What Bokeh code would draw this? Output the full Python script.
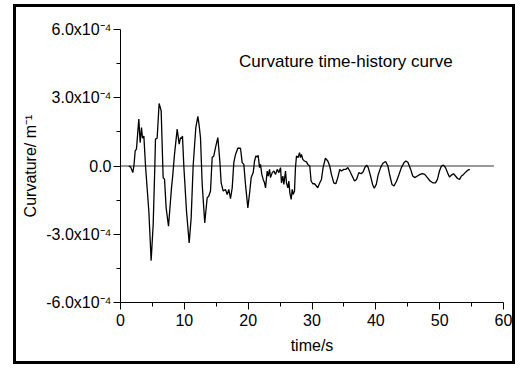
import numpy as np
from bokeh.plotting import figure
from bokeh.models import FixedTicker, Label, Range1d
from bokeh.embed import file_html
from bokeh.resources import INLINE

# ---- data (time in s, curvature in units of 1e-4 m^-1) ----
time_s = [1.3, 1.6, 1.93, 2.1, 2.3, 2.5, 2.87, 3.08, 3.29, 3.45, 3.66, 3.92, 4.44, 4.8, 5.12,
          5.38, 5.48, 5.74, 6.05, 6.37, 6.68, 6.9, 7.15, 7.52, 7.83, 7.99, 8.2, 8.46, 8.88,
          9.19, 9.4, 9.55, 9.71, 9.92, 10.34, 10.76, 11.07, 11.38, 11.8, 12.12, 12.33, 12.53,
          12.8, 13.2, 13.32, 13.58, 13.84, 14.1, 14.36, 14.62, 14.88, 15.25, 15.56, 15.77,
          16.09, 16.45, 16.71, 16.97, 17.23, 17.5, 17.75, 18.02, 18.38, 18.8, 19.06, 19.32,
          19.58, 19.95, 20.26, 20.47, 20.79, 21.0, 21.2, 21.42, 21.57, 21.78, 21.93, 22.14,
          22.35, 22.56, 22.72, 22.98, 23.14, 23.35, 23.5, 23.77, 24.03, 24.29, 24.55, 24.81,
          25.07, 25.22, 25.43, 25.59, 25.85, 26.0, 26.22, 26.37, 26.53, 26.74, 26.9, 27.05,
          27.26, 27.41, 27.57, 27.83, 28.04, 28.2, 28.35, 28.56, 28.82, 29.13, 29.34, 29.65,
          29.86, 30.12, 30.38, 30.7, 30.9, 31.22, 31.48, 31.74, 32.1, 32.47, 32.78, 33.04,
          33.41, 33.73, 34.04, 34.35, 34.61, 34.98, 35.3, 35.61, 35.92, 36.29, 36.66, 36.97,
          37.34, 37.7, 38.02, 38.28, 38.55, 38.81, 39.17, 39.49, 39.75, 40.07, 40.38, 40.75,
          41.11, 41.53, 41.89, 42.21, 42.53, 42.84, 43.26, 43.63, 44.0, 44.42, 44.73, 45.04,
          45.46, 45.78, 46.09, 46.51, 46.93, 47.3, 47.66, 48.08, 48.5, 48.92, 49.34, 49.65,
          49.97, 50.28, 50.6, 50.91, 51.22, 51.54, 51.85, 52.17, 52.48, 52.8, 53.11, 53.42,
          53.74, 54.0, 54.26, 54.58, 54.73]
curvature_e4 = [0.0, -0.05, -0.29, 0.0, 0.66, 0.74, 2.06, 1.03, 1.69, 1.22, 1.32, 0.0, -1.99,
                -4.16, -2.57, 0.0, 1.18, 1.22, 2.75, 2.43, -0.51, -0.59, -1.84, -2.65, -1.54,
                -0.96, -0.37, 0.51, 1.62, 0.96, 1.25, 1.2, 1.32, 0.0, -1.99, -3.38, -2.28, 0.0,
                1.69, 2.18, 1.76, 1.25, -0.81, -2.5, -2.13, -1.4, -1.32, -1.1, 0.37, 0.44, 0.81,
                1.25, 0.22, -0.74, -1.1, -1.03, -1.25, -1.03, -1.44, -0.96, 0.15, 0.51, 0.78,
                0.78, 0.15, 0.07, -0.81, -1.84, -1.1, -0.51, -0.29, 0.22, 0.44, 0.40, 0.47,
                -0.07, 0.07, -0.37, -0.59, -0.74, -0.96, -0.22, -0.44, -0.15, -0.51, -0.29,
                -0.22, -0.37, -0.15, -0.29, -0.07, -0.74, -0.44, -0.81, -0.22, -0.74, -0.96,
                -0.66, -1.18, -1.47, -1.03, -1.25, -1.1, -0.07, 0.44, 0.37, 0.59, 0.37, 0.51,
                0.29, 0.22, 0.18, 0.07, 0.0, -0.66, -0.78, -0.78, -0.88, -0.96, -0.74, -0.59,
                -0.07, 0.34, 0.22, 0.0, -0.37, -0.74, -0.78, -0.51, -0.15, -0.22, -0.15, -0.15,
                -0.07, -0.22, -0.44, -0.66, -0.59, -0.29, -0.34, -0.25, -0.07, 0.04, -0.07,
                -0.44, -0.81, -0.98, -0.81, -0.37, -0.07, 0.12, 0.2, 0.0, -0.44, -0.81, -0.88,
                -0.66, -0.37, -0.07, 0.15, 0.22, 0.15, -0.15, -0.44, -0.51, -0.44, -0.37,
                -0.34, -0.37, -0.51, -0.66, -0.74, -0.74, -0.59, -0.22, 0.0, 0.04, -0.07,
                -0.29, -0.48, -0.40, -0.34, -0.44, -0.55, -0.59, -0.44, -0.37, -0.29, -0.22,
                -0.15, -0.18]
zero_line_t = [0.0, 58.5]
zero_line_v = [0.0, 0.0]

x_ticks = [0, 10, 20, 30, 40, 50, 60]
x_minor = [5, 15, 25, 35, 45, 55]
y_ticks = [-6e-4, -3e-4, 0.0, 3e-4, 6e-4]
y_minor = [-4.5e-4, -1.5e-4, 1.5e-4, 4.5e-4]
y_tick_labels = ["-6.0x10\u207b\u2074", "-3.0x10\u207b\u2074", "0.0",
                 "3.0x10\u207b\u2074", "6.0x10\u207b\u2074"]

title_text = "Curvature time-history curve"
x_label = "time/s"
y_label = "Curvature/ m\u207b\u00b9"

FONT = "Liberation Sans"

curv = np.array(curvature_e4) * 1e-4

p = figure(width=502, height=360, output_backend="svg", toolbar_location=None,
           x_range=Range1d(0, 60), y_range=Range1d(-6e-4, 6e-4),
           min_border_left=104, min_border_right=15, min_border_top=22, min_border_bottom=65)
p.styles = {"border": "3px solid black", "margin-left": "13px", "margin-top": "4px"}

p.grid.visible = False
p.outline_line_color = None
p.background_fill_color = "white"
p.border_fill_color = "white"

for ax in (p.xaxis[0], p.yaxis[0]):
    ax.axis_line_color = "black"
    ax.major_tick_line_color = "black"
    ax.minor_tick_line_color = "black"
    ax.major_tick_in = 0
    ax.major_tick_out = 7
    ax.minor_tick_in = 0
    ax.minor_tick_out = 4
    ax.major_label_text_font = FONT
    ax.axis_label_text_font = FONT
    ax.axis_label_text_font_style = "normal"
    ax.major_label_text_color = "black"
    ax.axis_label_text_color = "black"

p.xaxis[0].ticker = FixedTicker(ticks=x_ticks, minor_ticks=x_minor)
p.yaxis[0].ticker = FixedTicker(ticks=y_ticks, minor_ticks=y_minor)
p.yaxis[0].major_label_overrides = {v: s for v, s in zip(y_ticks, y_tick_labels)}
p.xaxis[0].major_label_text_font_size = "16px"
p.yaxis[0].major_label_text_font_size = "16px"
p.xaxis[0].major_label_standoff = 4
p.yaxis[0].major_label_standoff = 2
p.xaxis[0].axis_label = x_label
p.yaxis[0].axis_label = y_label
p.xaxis[0].axis_label_text_font_size = "16px"
p.yaxis[0].axis_label_text_font_size = "16px"
p.xaxis[0].axis_label_standoff = 8
p.yaxis[0].axis_label_standoff = 4

p.line(zero_line_t, zero_line_v, line_color="#333333", line_width=1)
p.line(time_s, curv, line_color="black", line_width=1.3)

p.add_layout(Label(x=35.3, y=4.6e-4, text=title_text, text_font=FONT, text_font_size="17px",
                   text_align="center", text_baseline="middle", text_color="black"))

open("out.html", "w").write(file_html(p, INLINE))
